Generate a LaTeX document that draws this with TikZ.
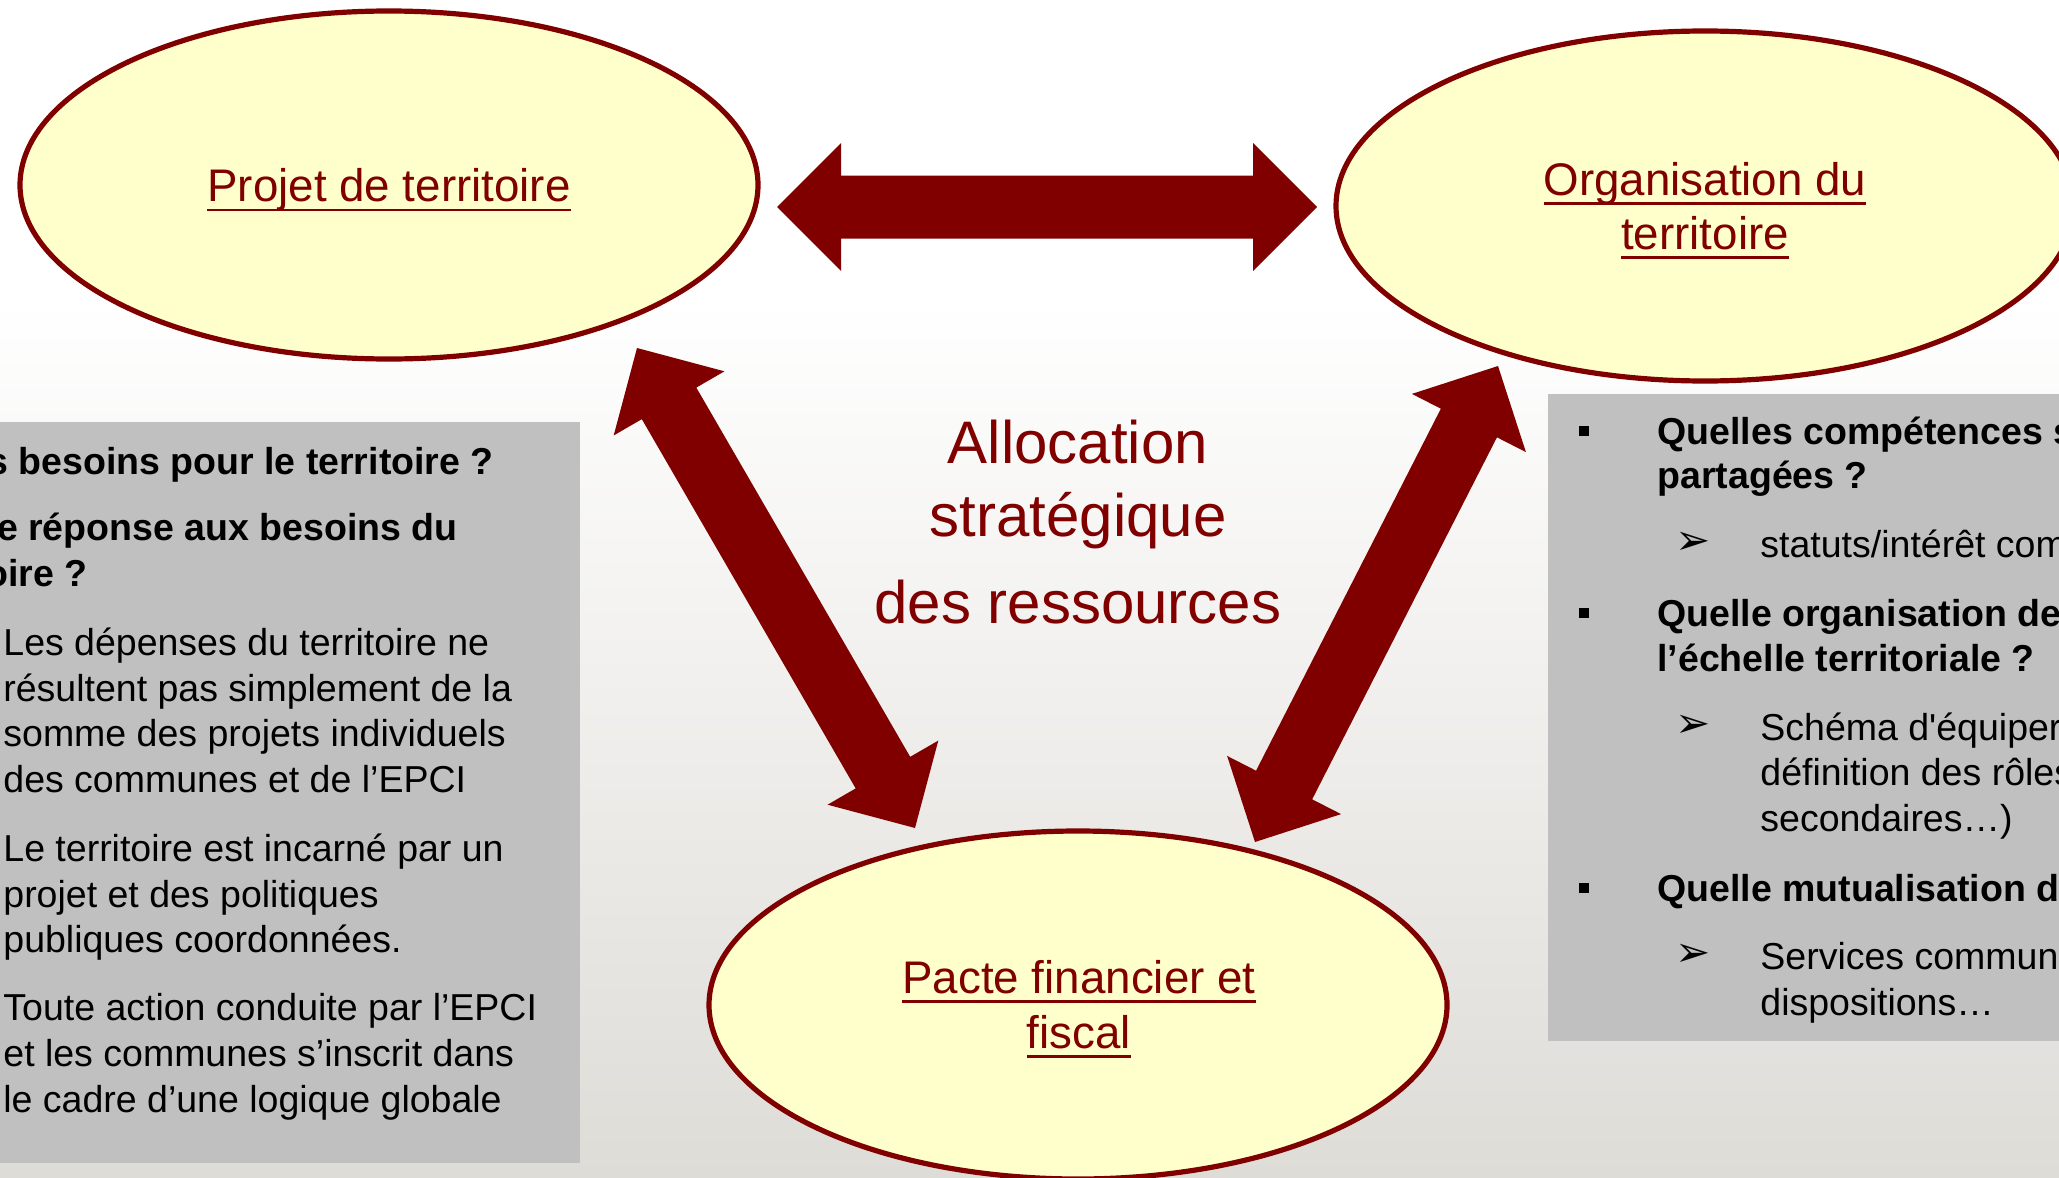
\documentclass[tikz,border=0pt]{standalone}
\usepackage{fontspec}
\setmainfont{Liberation Sans}
\newfontfamily\dejavu{DejaVu Sans}
\usetikzlibrary{shapes.geometric,calc}
\definecolor{darkred}{HTML}{800000}
\definecolor{ellfill}{HTML}{FFFFCC}
\definecolor{boxgray}{HTML}{C0C0C0}
\definecolor{bgbottom}{RGB}{222,220,215}
\newsavebox\ulbox
\newcommand{\ulx}[1]{\sbox\ulbox{#1}\rlap{\rule[-4.85pt]{\wd\ulbox}{1.25pt}}\usebox\ulbox}
% double block arrow between two named coordinates
\newcommand{\dblarrow}[2]{%
  \coordinate (#1-a) at ($(#1)!32pt!(#2)$);
  \coordinate (#2-b) at ($(#2)!32pt!(#1)$);
  \fill[arrowfill] (#1) -- ($(#1-a)!32pt!90:(#2)$) -- ($(#1-a)!15.75pt!90:(#2)$)
    -- ($(#2-b)!15.75pt!-90:(#1)$) -- ($(#2-b)!32pt!-90:(#1)$) -- (#2)
    -- ($(#2-b)!32pt!90:(#1)$) -- ($(#2-b)!15.75pt!90:(#1)$)
    -- ($(#1-a)!15.75pt!-90:(#2)$) -- ($(#1-a)!32pt!-90:(#2)$) -- cycle;}
\begin{document}
\begin{tikzpicture}[x=0.5pt,y=-0.5pt,
  ell/.style={ellipse, draw=darkred, line width=2.6pt, fill=ellfill, inner sep=0pt,
              minimum width=369pt, minimum height=174pt},
  elltext/.style={text=darkred, font=\fontsize{22.85}{27}\selectfont, inner sep=0pt, anchor=base},
  midtext/.style={text=darkred, font=\fontsize{30}{36}\selectfont, inner sep=0pt, anchor=base},
  qbold/.style={font=\fontsize{18.75}{22.8}\selectfont\bfseries, inner sep=0pt},
  body/.style={font=\fontsize{18.75}{22.8}\selectfont, inner sep=0pt, anchor=base west},
  infobox/.style={fill=boxgray, draw=none, inner sep=0pt, anchor=north west},
  sqbullet/.style={fill=black, minimum size=5pt, inner sep=0pt},
  arrbullet/.style={font=\dejavu\fontsize{21}{21}\selectfont, inner sep=0pt},
  arrowfill/.style={fill=darkred},
]
\useasboundingbox (0,0) rectangle (2059,1177);
\clip (0,0) rectangle (2059,1177);
\fill[white] (0,0) rectangle (2059,1177);
\shade[top color=white, bottom color=bgbottom] (0,300) rectangle (2059,1177);

% grey text boxes
\node[infobox, minimum width=295pt, minimum height=370.75pt] (lbox) at (-10,421.5) {};
\node[infobox, minimum width=266pt, minimum height=323.5pt] (rbox) at (1548,394) {};

% ellipses
\node[ell] (proj) at (389,185) {};
\node[ell, minimum height=175pt] (orga) at (1705,206) {};
\node[ell] (pacte) at (1078,1005) {};

% block arrows
\coordinate (hA) at (777,207);  \coordinate (hB) at (1317,207);
\coordinate (lA) at (637,348);  \coordinate (lB) at (915,828);
\coordinate (rA) at (1498,366); \coordinate (rB) at (1255,842);
\dblarrow{hA}{hB}
\dblarrow{lA}{lB}
\dblarrow{rA}{rB}

% ellipse labels
\node[elltext] (tproj) at (389,201.7) {\ulx{Projet de territoire}};
\node[elltext] (torga1) at (1705,195) {\ulx{Organisation du}};
\node[elltext] (torga2) at (1705,249) {\ulx{territoire}};
\node[elltext] (tpacte1) at (1079,993) {\ulx{Pacte financier et}};
\node[elltext] (tpacte2) at (1079,1048) {\ulx{fiscal}};

% centre text
\node[midtext] (c1) at (1078,463) {Allocation};
\node[midtext] (c2) at (1078,536) {stratégique};
\node[midtext] (c3) at (1078,623) {des ressources};

% left box text
\node[qbold, anchor=base east] (l1) at (494,474) {s besoins pour le territoire~?};
\node[qbold, anchor=base east] (l2) at (458,540) {e réponse aux besoins du};
\node[qbold, anchor=base east] (l3) at (88,586) {oire~?};
\node[body] (l4) at (3,655) {Les dépenses du territoire ne};
\node[body] (l5) at (3,701) {résultent pas simplement de la};
\node[body] (l6) at (3,746) {somme des projets individuels};
\node[body] (l7) at (3,792) {des communes et de l’EPCI};
\node[body] (l8) at (3,861) {Le territoire est incarné par un};
\node[body] (l9) at (3,907) {projet et des politiques};
\node[body] (l10) at (3,952) {publiques coordonnées.};
\node[body] (l11) at (3,1020) {Toute action conduite par l’EPCI};
\node[body] (l12) at (3,1066) {et les communes s’inscrit dans};
\node[body] (l13) at (3,1112) {le cadre d’une logique globale};

% right box text
\node[sqbullet] (b1) at (1584,431) {};
\node[sqbullet] (b2) at (1584,613) {};
\node[sqbullet] (b3) at (1584,888) {};
\node[arrbullet] (a1) at (1693,543) {➢};
\node[arrbullet] (a2) at (1693,726) {➢};
\node[arrbullet] (a3) at (1693,955) {➢};
\node[qbold, anchor=base west] (r1) at (1657,444) {Quelles compétences s};
\node[qbold, anchor=base west] (r2) at (1657,488) {partagées~?};
\node[body] (r3) at (1760,557) {statuts/intérêt com};
\node[qbold, anchor=base west] (r4) at (1657,626) {Quelle organisation de};
\node[qbold, anchor=base west] (r5) at (1657,671) {l’échelle territoriale~?};
\node[body] (r6) at (1760,740) {Schéma d\textquotesingle équiper};
\node[body] (r7) at (1760,785) {définition des rôles};
\node[body] (r8) at (1760,831) {secondaires…)};
\node[qbold, anchor=base west] (r9) at (1657,901) {Quelle mutualisation d};
\node[body] (r10) at (1760,969) {Services commun};
\node[body] (r11) at (1760,1015) {dispositions…};
\end{tikzpicture}
\end{document}
